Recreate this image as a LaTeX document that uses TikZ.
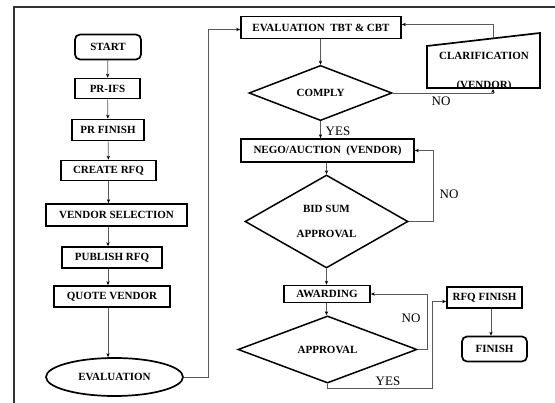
\documentclass[tikz,border=0pt]{standalone}
\usepackage{fontspec}
\setmainfont{Liberation Serif}
\usetikzlibrary{shapes.geometric, arrows.meta}

\begin{document}
\begin{tikzpicture}
        [x=1pt, y=-1pt,
        box/.style={draw, line width=1.7pt, inner sep=0pt, font=\bfseries\fontsize{11}{13}\selectfont},
        roundbox/.style={box, rounded corners=5pt},
        decision/.style={box, diamond, line width=1.5pt, align=center},
        oval/.style={box, ellipse},
        shapeline/.style={line width=1.7pt, black},
        boxtext/.style={font=\bfseries\fontsize{11}{13}\selectfont, inner sep=0pt},
        edge/.style={draw=black!65, line width=0.7pt, -{Stealth[length=4pt, width=3.4pt, black]}},
        note/.style={font=\fontsize{13}{15}\selectfont, inner sep=0pt}]

        \useasboundingbox (0,0) rectangle (555,403);

        % outer frame
        \draw[black!80, line width=1.4pt] (14,403) -- (14,7) -- (555,7);

        % left column
        \node[roundbox, minimum width=66pt, minimum height=25pt] (start) at (108,47) {START};
        \node[box, minimum width=65pt, minimum height=20pt] (prifs) at (107.5,88.5) {PR-IFS};
        \node[box, minimum width=72pt, minimum height=21pt] (prfinish) at (108,130) {PR FINISH};
        \node[box, minimum width=95pt, minimum height=20pt] (createrfq) at (108.5,170.5) {CREATE RFQ};
        \node[box, minimum width=141pt, minimum height=22pt] (vendorsel) at (116.5,215) {VENDOR SELECTION};
        \node[box, minimum width=100pt, minimum height=21pt] (publish) at (112,257.5) {PUBLISH RFQ};
        \node[box, minimum width=116pt, minimum height=21pt] (quote) at (112,296.5) {QUOTE VENDOR};
        \node[oval, minimum width=137pt, minimum height=38pt] (evaluation) at (114.5,377) {EVALUATION};

        % right column
        \node[box, minimum width=160pt, minimum height=22pt] (evaltbt) at (321,27.5) {EVALUATION\ \ TBT \& CBT};
        \node[decision, minimum width=143pt, minimum height=50pt] (comply) at (320.5,93) {COMPLY};
        \node[box, minimum width=173pt, minimum height=23pt] (nego) at (327.5,150.5) {NEGO/AUCTION\ \ (VENDOR)};
        \node[decision, minimum width=163pt, minimum height=93pt] (bidsum) at (326.5,221.5) {BID SUM\\[12pt]APPROVAL};
        \node[box, minimum width=86pt, minimum height=17pt] (awarding) at (327,294) {AWARDING};
        \node[decision, minimum width=179pt, minimum height=45pt] (approval) at (327.5,349.5) {APPROVAL};
        \node[box, minimum width=75pt, minimum height=21pt] (rfqfinish) at (484.5,297.5) {RFQ FINISH};
        \node[roundbox, minimum width=65pt, minimum height=25pt] (finish) at (494.5,349) {FINISH};

        % clarification (slanted top)
        \coordinate (clarSW) at (427,88);
        \coordinate (clarNW) at (427,46);
        \coordinate (clarNE) at (540,33);
        \coordinate (clarSE) at (540,88);
        \begin{scope}
        \clip (427,33) rectangle (540,86.5);
        \node[boxtext] (clarA) at (484,56) {CLARIFICATION};
        \node[boxtext] (clarB) at (484,86) {(VENDOR)};
        \end{scope}
        \draw[shapeline] (clarSW) -- (clarNW) -- (clarNE) -- (clarSE) -- cycle;
        \coordinate (clarin) at (493,89);
        \coordinate (clarout) at (493,38.5);

        % left column edges
        \draw[edge] (start) -- (prifs);
        \draw[edge] (prifs) -- (prfinish);
        \draw[edge] (prfinish) -- (createrfq);
        \draw[edge] (createrfq.south) -- (createrfq.south |- vendorsel.north);
        \draw[edge] (vendorsel.south -| start) -- (publish.north -| start);
        \draw[edge] (publish.south -| start) -- (quote.north -| start);
        \draw[edge] (quote.south -| start) -- (evaluation.north -| start);

        % to the right column
        \coordinate (turnA) at (208,377);
        \draw[edge] (evaluation.east) -- (turnA) |- ([yshift=-2pt]evaltbt.west);

        % right column edges
        \draw[edge] (evaltbt.south -| comply) -- (comply.north);
        \draw[edge] (comply.south) -- (comply.south |- nego.north);
        \draw[edge] (nego.south -| bidsum) -- (bidsum.north);
        \draw[edge] (bidsum.south) -- (bidsum.south |- awarding.north);
        \draw[edge] (awarding.south -| bidsum) -- (approval.north -| bidsum);
        \draw[edge] (rfqfinish.south -| 491,0) -- (finish.north -| 491,0);

        % loops
        \draw[edge] (comply.east) -| (clarin);
        \draw[edge] (clarout) |- ([yshift=3pt]evaltbt.east);
        \draw[edge] (bidsum.east) -- ++(25,0) |- (nego.east);
        \draw[edge] (approval.east) -- ++(10,0) |- (awarding.east);
        \coordinate (turnB) at (432,388);
        \draw[edge] (approval.south) |- (turnB) |- ([yshift=-4pt]rfqfinish.west);

        % branch labels
        \node[note] (yesA) at (338,131) {YES};
        \node[note] (noA) at (441,101) {NO};
        \node[note] (noB) at (449,194) {NO};
        \node[note] (noC) at (411,318) {NO};
        \node[note] (yesB) at (388,381) {YES};

\end{tikzpicture}
\end{document}
